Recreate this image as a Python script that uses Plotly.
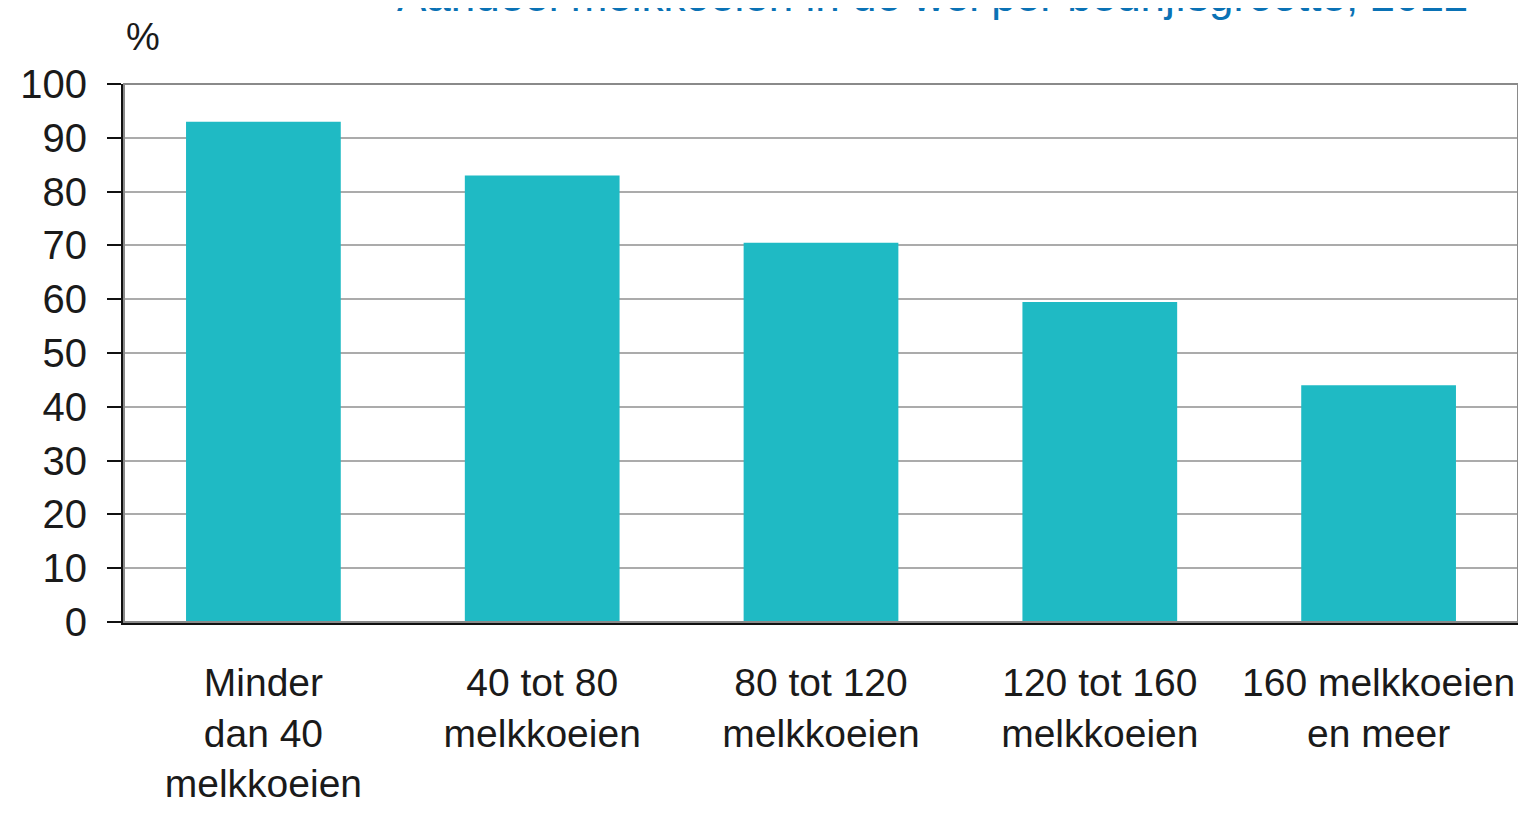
import plotly.graph_objects as go

categories = [
    "Minder<br>dan 40<br>melkkoeien",
    "40 tot 80<br>melkkoeien",
    "80 tot 120<br>melkkoeien",
    "120 tot 160<br>melkkoeien",
    "160 melkkoeien<br>en meer",
]
values = [93, 83, 70.5, 59.5, 44]
y_ticks = [0, 10, 20, 30, 40, 50, 60, 70, 80, 90, 100]

FONT = "Liberation Sans, Arial, sans-serif"
BAR_COLOR = "#1fbac4"

# the page adds an 8px body margin; compensate so the chart lands at the reference spot
OFF = 8

fig = go.Figure()
fig.add_trace(go.Bar(
    x=categories,
    y=values,
    marker=dict(color=BAR_COLOR, line=dict(width=0)),
    width=0.555,
    showlegend=False,
))

# frame (top / right in grey)
fig.add_shape(type="rect", xref="paper", yref="paper", x0=0, x1=1, y0=0, y1=1,
              line=dict(color="#8a8a8a", width=2), fillcolor="rgba(0,0,0,0)", layer="above")

fig.update_layout(
    width=1526 - OFF, height=824 - OFF,
    margin=dict(l=124 - OFF, r=8, t=84 - OFF, b=202, pad=0),
    paper_bgcolor="white",
    plot_bgcolor="white",
    font=dict(family=FONT, size=40, color="#1a1a1a"),
    xaxis=dict(
        showline=True, linecolor="#111111", linewidth=3,
        ticks="", showgrid=False,
        tickfont=dict(size=39),
        ticklabelstandoff=24,
        automargin=False,
        mirror=False,
    ),
    yaxis=dict(
        range=[0, 100],
        tickvals=y_ticks,
        showline=True, linecolor="#111111", linewidth=3,
        ticks="outside", ticklen=14, tickwidth=2, tickcolor="#111111",
        showgrid=True, gridcolor="#ababab", gridwidth=2,
        tickfont=dict(size=40),
        ticklabelstandoff=12,
        automargin=False,
        zeroline=False,
    ),
    annotations=[
        dict(text="%", xref="paper", yref="paper", x=0.0, y=1.0,
             xanchor="left", yanchor="bottom", yshift=24, showarrow=False,
             font=dict(size=38, color="#1a1a1a")),
        dict(text="Aandeel melkkoeien in de wei per bedrijfsgrootte, 2012",
             xref="paper", yref="paper", x=(1470 - 124) / 1394, y=1.0,
             xanchor="right", yanchor="bottom", yshift=62, showarrow=False,
             font=dict(size=44, color="#0a72b5")),
    ],
)

fig.write_html("out.html")
